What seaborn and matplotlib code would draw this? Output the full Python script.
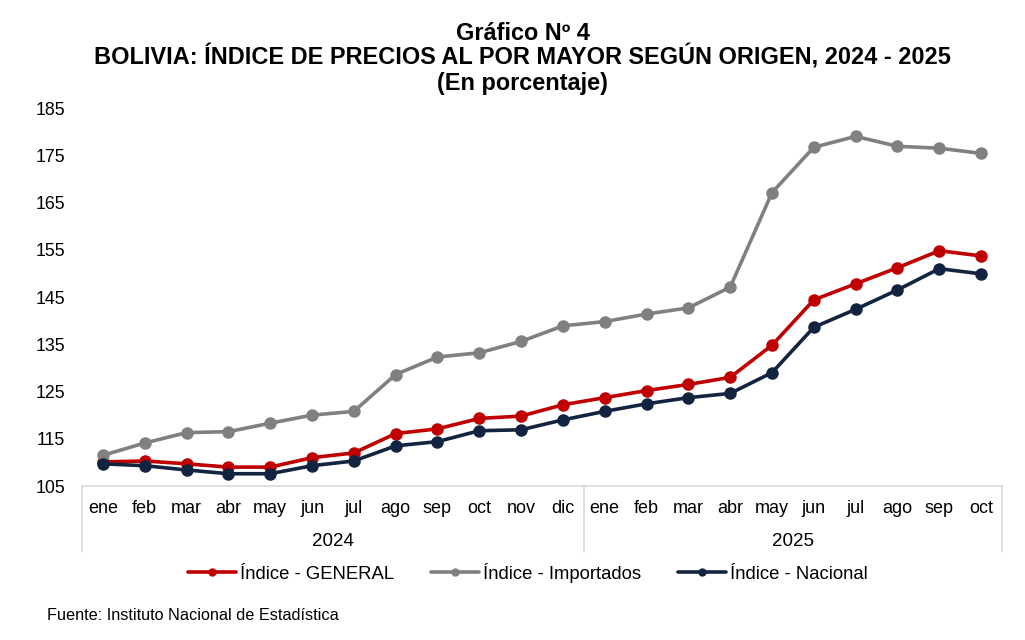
import matplotlib
matplotlib.use("Agg")
import matplotlib.pyplot as plt
import matplotlib.lines as mlines
import seaborn as sns
import pandas as pd

# Datos
meses = ['ene', 'feb', 'mar', 'abr', 'may', 'jun', 'jul', 'ago', 'sep', 'oct', 'nov', 'dic',
         'ene', 'feb', 'mar', 'abr', 'may', 'jun', 'jul', 'ago', 'sep', 'oct']
anios = ['2024', '2025']
meses_por_anio = [12, 10]

general = [110.1, 110.3, 109.7, 109.0, 109.0, 111.0, 112.0, 116.1, 117.1, 119.3, 119.8, 122.2,
           123.7, 125.2, 126.5, 128.0, 134.8, 144.4, 147.8, 151.2, 154.8, 153.7]
importados = [111.5, 114.1, 116.3, 116.5, 118.3, 120.0, 120.8, 128.6, 132.3, 133.2, 135.6, 138.9,
              139.8, 141.4, 142.7, 147.1, 167.1, 176.7, 179.0, 176.9, 176.5, 175.4]
nacional = [109.7, 109.3, 108.4, 107.6, 107.6, 109.3, 110.3, 113.5, 114.4, 116.7, 116.9, 119.0,
            120.8, 122.4, 123.7, 124.6, 129.0, 138.6, 142.4, 146.5, 151.0, 149.9]

series = ['Índice - GENERAL', 'Índice - Importados', 'Índice - Nacional']
colores = ['#C00000', '#808080', '#12243F']

pos = list(range(len(meses)))
df = pd.DataFrame({'pos': pos * 3,
                   'valor': general + importados + nacional,
                   'serie': [s for s in series for _ in meses]})

sns.set_style('white')
plt.rcParams['font.family'] = ['Liberation Sans', 'DejaVu Sans']
plt.rcParams['text.color'] = 'black'
plt.rcParams['xtick.color'] = 'black'
plt.rcParams['ytick.color'] = 'black'

fig = plt.figure(figsize=(10.25, 6.4), dpi=100)
ax = fig.add_axes([0.080, 0.2406, 0.8976, 0.5906])

for s, c in zip(series, colores):
    d = df[df['serie'] == s]
    sns.lineplot(data=d, x='pos', y='valor', color=c, linewidth=2.6, marker='o',
                 markersize=9, markeredgewidth=0, ax=ax, legend=False)

ax.set_xlim(-0.5, len(meses) - 0.5)
ax.set_ylim(105, 185)
ax.set_yticks(range(105, 186, 10))
ax.set_xticks(pos)
ax.set_xticklabels(meses)
ax.set_xlabel('')
ax.set_ylabel('')
ax.tick_params(axis='y', length=0, pad=12, labelsize=12.8)
ax.tick_params(axis='x', length=0, pad=10, labelsize=13)

for sp in ['top', 'right', 'left']:
    ax.spines[sp].set_visible(False)
ax.spines['bottom'].set_color('#d9d9d9')
ax.spines['bottom'].set_linewidth(1.2)

# eje de categorias de dos niveles
trans = ax.get_xaxis_transform()
bordes = [-0.5]
for n in meses_por_anio:
    bordes.append(bordes[-1] + n)
for b in bordes:
    ax.plot([b, b], [0, -0.175], transform=trans, color='#d9d9d9', linewidth=1.2, clip_on=False)
for i, a in enumerate(anios):
    ax.text((bordes[i] + bordes[i + 1]) / 2, -0.1455, a, transform=trans,
            ha='center', va='center', fontsize=13.5)

handles = [mlines.Line2D([], [], color=c, linewidth=2.6, marker='o', markersize=6,
                         markeredgewidth=0) for c in colores]
fig.legend(handles, series, loc='center', bbox_to_anchor=(0.515, 0.105), ncol=3,
           frameon=False, fontsize=13.3, handlelength=2.6, columnspacing=2.0, handletextpad=0.2)

fig.text(0.51, 0.948, 'Gráfico Nº 4', ha='center', va='center', fontsize=16.9, fontweight='bold')
fig.text(0.51, 0.911, 'BOLIVIA: ÍNDICE DE PRECIOS AL POR MAYOR SEGÚN ORIGEN, 2024 - 2025',
         ha='center', va='center', fontsize=16.9, fontweight='bold')
fig.text(0.51, 0.869, '(En porcentaje)', ha='center', va='center', fontsize=16.9, fontweight='bold')
fig.text(0.046, 0.0375, 'Fuente: Instituto Nacional de Estadística', ha='left', va='center',
         fontsize=11.7)

plt.savefig('out.png', dpi=100)
